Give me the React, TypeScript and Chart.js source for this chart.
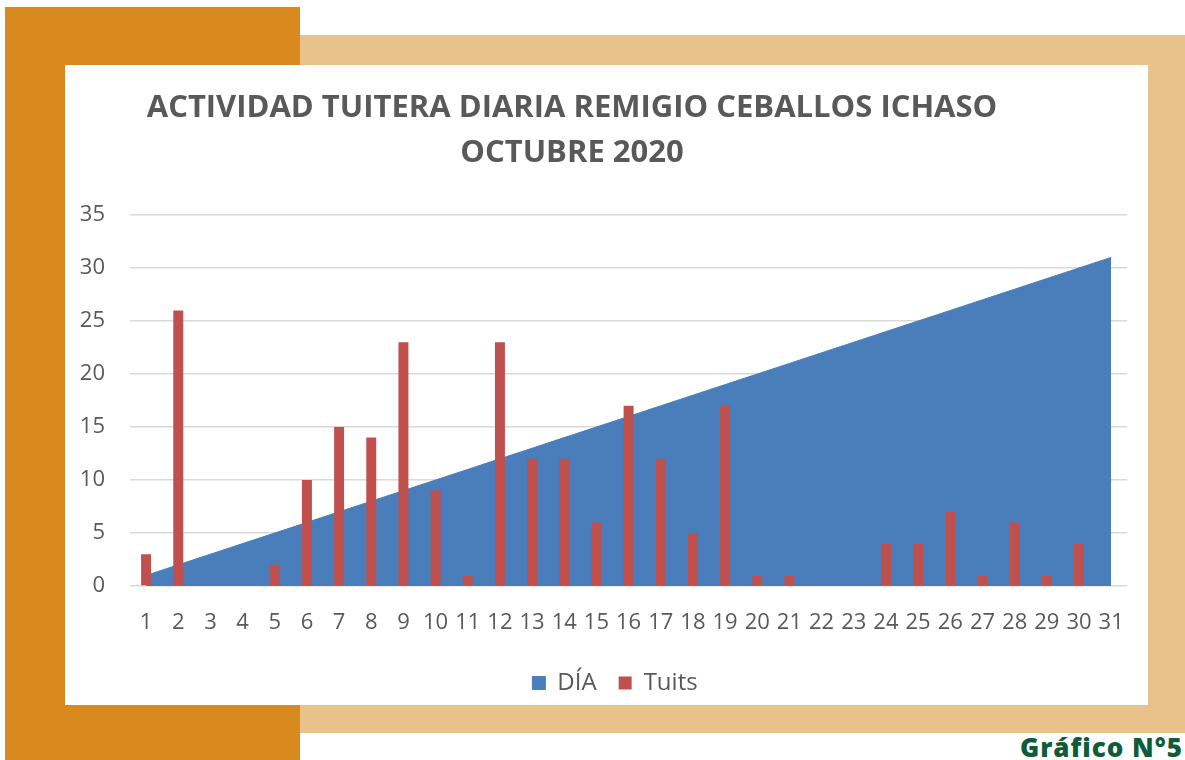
import React, { useEffect, useRef } from "react";
import { Chart, registerables } from "chart.js";

Chart.register(...registerables);

const TITLE_LINES = ["ACTIVIDAD TUITERA DIARIA REMIGIO CEBALLOS ICHASO", "OCTUBRE 2020"];
const DAYS = [
  "1", "2", "3", "4", "5", "6", "7", "8", "9", "10", "11", "12", "13", "14", "15", "16",
  "17", "18", "19", "20", "21", "22", "23", "24", "25", "26", "27", "28", "29", "30", "31",
];
const DIA = [1, 2, 3, 4, 5, 6, 7, 8, 9, 10, 11, 12, 13, 14, 15, 16, 17, 18, 19, 20, 21, 22, 23, 24, 25, 26, 27, 28, 29, 30, 31];
const TUITS = [3, 26, 0, 0, 2, 10, 15, 14, 23, 9, 1, 23, 12, 12, 6, 17, 12, 5, 17, 1, 1, 0, 0, 4, 4, 7, 1, 6, 1, 4, 0];
const Y_TICKS = [0, 5, 10, 15, 20, 25, 30, 35];

const FONT = "'Open Sans', 'DejaVu Sans', sans-serif";
const GREY = "#595959";

const titlePlugin = {
  id: "offsetTitle",
  afterLayout(chart: any) {
    if (chart.legend) {
      chart.legend.left += 10;
      chart.legend.right += 10;
    }
  },
  afterDraw(chart: any) {
    const ctx = chart.ctx;
    ctx.save();
    ctx.font = `bold 31px ${FONT}`;
    ctx.fillStyle = GREY;
    ctx.textAlign = "center";
    ctx.textBaseline = "middle";
    TITLE_LINES.forEach((t, i) => ctx.fillText(t, 507, 43 + i * 45));
    ctx.restore();
  },
};

export default function App() {
  const ref = useRef<HTMLCanvasElement | null>(null);

  useEffect(() => {
    if (!ref.current) return;
    const chart = new Chart(ref.current, {
      type: "bar",
      data: {
        labels: DAYS,
        datasets: [
          {
            type: "line",
            label: "DÍA",
            data: DIA,
            backgroundColor: "#4A7EBB",
            borderColor: "#4A7EBB",
            borderWidth: 1,
            pointRadius: 0,
            fill: "origin",
            tension: 0,
            order: 2,
          } as any,
          {
            type: "bar",
            label: "Tuits",
            data: TUITS,
            backgroundColor: "#C0504D",
            borderWidth: 0,
            barPercentage: 0.31,
            categoryPercentage: 1,
            order: 1,
          },
        ],
      },
      options: {
        responsive: false,
        animation: false,
        layout: { padding: { left: 15, right: 18, top: 150, bottom: 0 } },
        plugins: {
          title: { display: false },
          tooltip: { enabled: false },
          legend: {
            position: "bottom",
            labels: {
              boxWidth: 13,
              boxHeight: 13,
              padding: 22,
              color: GREY,
              font: { family: FONT, size: 24 },
              sort: (a: any, b: any) => a.datasetIndex - b.datasetIndex,
            },
          },
        },
        scales: {
          x: {
            offset: true,
            grid: { display: false, drawTicks: false },
            border: { display: false },
            ticks: {
              color: GREY,
              font: { family: FONT, size: 22 },
              padding: 24,
              autoSkip: false,
              maxRotation: 0,
              minRotation: 0,
            },
            afterFit: (scale: any) => {
              scale.height = 63;
            },
          },
          y: {
            min: 0,
            max: 35,
            afterBuildTicks: (scale: any) => {
              scale.ticks = Y_TICKS.map((v) => ({ value: v }));
            },
            grid: { color: "#D9D9D9", lineWidth: 1.5, drawTicks: false },
            border: { display: false },
            ticks: {
              color: GREY,
              font: { family: FONT, size: 22 },
              padding: 25,
            },
            afterFit: (scale: any) => {
              scale.width = 50;
            },
          },
        },
      },
      plugins: [titlePlugin],
    });
    return () => chart.destroy();
  }, []);

  return (
    <>
      <div style={{ position: "absolute", left: 5, top: 7, width: 295, height: 753, background: "#D88A1E" }} />
      <div style={{ position: "absolute", left: 300, top: 35, width: 885, height: 698, background: "#E9C18A" }} />
      <div style={{ position: "absolute", left: 65, top: 65, width: 1083, height: 640, background: "#FFFFFF" }}>
        <canvas ref={ref} width={1083} height={640} style={{ display: "block" }} />
      </div>
      <div
        style={{
          position: "absolute",
          left: 880,
          top: 732,
          width: 303,
          textAlign: "right",
          fontFamily: FONT,
          fontWeight: 800,
          fontSize: 26,
          letterSpacing: 1,
          lineHeight: "30px",
          color: "#0D5C3A",
        }}
      >
        Gráfico N°5
      </div>
    </>
  );
}
